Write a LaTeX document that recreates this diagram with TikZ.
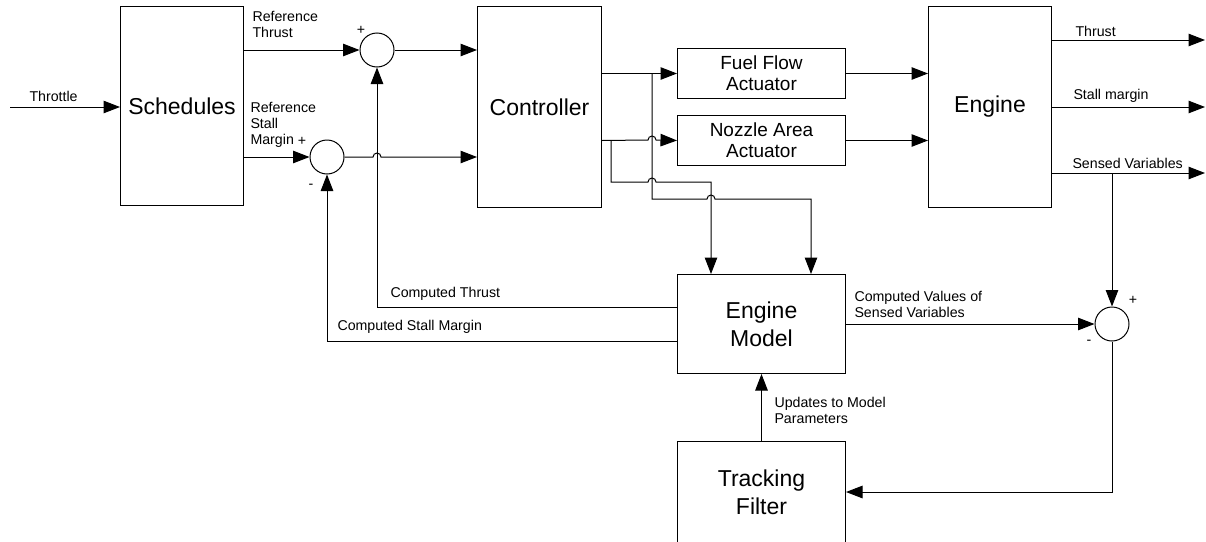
\documentclass[tikz,border=0pt]{standalone}
\usepackage{fontspec}
\setmainfont{Liberation Sans}
\usetikzlibrary{arrows.meta}

\tikzset{
  block/.style={draw, line width=1pt, anchor=north west, inner sep=0pt, align=center,
    font=\fontsize{23}{28}\selectfont},
  act/.style={block, font=\fontsize{19}{21}\selectfont},
  sum/.style={draw, circle, line width=1pt, minimum size=34pt, inner sep=0pt},
  lbl/.style={anchor=base west, inner sep=0pt, align=left, font=\fontsize{14.2}{16}\selectfont},
  sgn/.style={inner sep=0pt, font=\fontsize{14.2}{16}\selectfont},
}

\begin{document}
\begin{tikzpicture}[x=1pt, y=-1pt, line width=1pt, >={Triangle[length=16.5pt,width=12.5pt]}]
  \useasboundingbox (0,0) rectangle (1206,541);

  % blocks
  \node[block, minimum width=123pt, minimum height=199pt] (sched) at (120,6) {Schedules};
  \node[block, minimum width=124pt, minimum height=201pt] (ctrl) at (477,6) {Controller};
  \node[act, minimum width=168pt, minimum height=50pt] (fuel) at (677,48) {Fuel Flow\\Actuator};
  \node[act, minimum width=168pt, minimum height=50pt] (nozzle) at (677,115) {Nozzle Area\\Actuator};
  \node[block, minimum width=123pt, minimum height=201pt] (engine) at (928,6) {Engine};
  \node[block, minimum width=168pt, minimum height=99pt] (model) at (677,274) {Engine\\Model};
  \node[block, minimum width=168pt, minimum height=101pt] (filter) at (677,441) {Tracking\\Filter};

  % summing junctions
  \node[sum] (sumT) at (377,50) {};
  \node[sum] (sumS) at (327,157) {};
  \node[sum] (sumV) at (1112,324) {};

  \coordinate (thr) at (10,107);
  \coordinate (br1) at (652,73);
  \coordinate (br2) at (611,140);
  \coordinate (m1) at (811,199);
  \coordinate (m2) at (711,182);
  \coordinate (outT) at (1205,40);
  \coordinate (outS) at (1205,107);
  \coordinate (outV) at (1205,173);
  \coordinate (tap) at (1112,173);
  \coordinate (fb) at (1112,492);
  \coordinate (ct) at (377,307);
  \coordinate (cs) at (327,341);

  % forward path
  \draw[->] (thr) -- (thr -| sched.west);
  \draw[->] (sched.east |- sumT) -- (sumT.west);
  \draw[->] (sched.east |- sumS) -- (sumS.west);
  \draw[->] (sumT.east) -- (sumT -| ctrl.west);
  \draw[->] (sumS.east) -- (373,157) arc[start angle=180, end angle=0, radius=4pt] -- (sumS -| ctrl.west);
  \draw[->] (fuel.west -| ctrl.east) -- (fuel.west);
  \draw[->] (nozzle.west -| ctrl.east) -- (648,140) arc[start angle=180, end angle=0, radius=4pt] -- (nozzle.west);
  \draw[->] (fuel.east) -- (fuel.east -| engine.west);
  \draw[->] (nozzle.east) -- (nozzle.east -| engine.west);

  % controller outputs into the model
  \draw[->] (br1) -- (652,199) -- (707,199) arc[start angle=180, end angle=0, radius=4pt] -- (m1) -- (m1 |- model.north);
  \draw[->] (br2) -- (611,182) -- (648,182) arc[start angle=180, end angle=0, radius=4pt] -- (m2) -- (m2 |- model.north);

  % engine outputs
  \draw[->] (engine.east |- outT) -- (outT);
  \draw[->] (engine.east |- outS) -- (outS);
  \draw[->] (engine.east |- outV) -- (outV);
  \draw[->] (tap) -- (sumV.north);
  \draw[->] (model.east |- sumV) -- (sumV.west);
  \draw[->] (sumV.south) -- (fb) -- (fb -| filter.east);
  \draw[->] (filter.north) -- (model.south);

  % feedback to the junctions
  \draw[->] (model.west |- ct) -- (ct) -- (sumT.south);
  \draw[->] (model.west |- cs) -- (cs) -- (sumS.south);

  % labels (base is the last line of each)
  \node[lbl] (lthr) at (29,101) {Throttle};
  \node[lbl] (lreft) at (252,37) {Reference\\Thrust};
  \node[lbl] (lrefs) at (250,144) {Reference\\Stall\\Margin};
  \node[lbl] (lthrust) at (1075,36) {Thrust};
  \node[lbl] (lstall) at (1073,99) {Stall margin};
  \node[lbl] (lsensed) at (1072,168) {Sensed Variables};
  \node[lbl] (lct) at (390,297) {Computed Thrust};
  \node[lbl] (lcs) at (337,330) {Computed Stall Margin};
  \node[lbl] (lcv) at (854,317) {Computed Values of\\Sensed Variables};
  \node[lbl] (lupd) at (774,423) {Updates to Model\\Parameters};

  \node[sgn] (pT) at (361,30) {+};
  \node[sgn] (pS) at (302,141) {+};
  \node[sgn] (mS) at (311,186) {-};
  \node[sgn] (pV) at (1133,300) {+};
  \node[sgn] (mV) at (1089,342) {-};
\end{tikzpicture}
\end{document}
